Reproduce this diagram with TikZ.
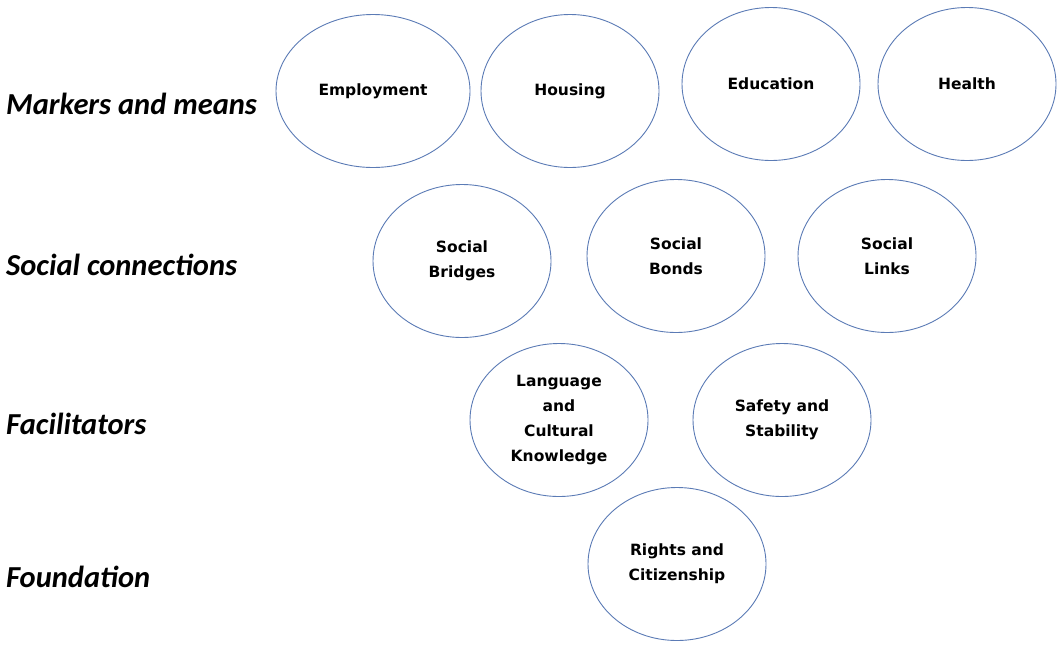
\documentclass[tikz,border=0pt]{standalone}
\usepackage{fontspec}
\setmainfont{Carlito}
\newfontfamily\circfont{DejaVu Sans}
\usetikzlibrary{shapes.geometric}
\definecolor{rimblue}{HTML}{5B7BB5}
\tikzset{
    blob/.style={ellipse, draw=rimblue, line width=0.9pt, minimum width=178pt, minimum height=153pt, inner sep=0pt, align=center, font=\circfont\bfseries\fontsize{15.5}{25}\selectfont},
    level/.style={anchor=west, inner sep=0pt, font=\bfseries\itshape\fontsize{30.5}{33}\selectfont}
}
\begin{document}
\begin{tikzpicture}[x=1pt, y=-1pt]
        \useasboundingbox (0,0) rectangle (1059,646);
        \node[level] (markers) at (6,104) {Markers and means};
        \node[level] (social) at (6,265) {Social connections};
        \node[level] (facil) at (6,424) {Facilitators};
        \node[level] (found) at (6,577) {Foundation};
        \node[blob, minimum width=194pt] (employment) at (373,91) {Employment};
        \node[blob] (housing) at (570,91) {Housing};
        \node[blob] (education) at (771,84) {Education};
        \node[blob] (health) at (967,84) {Health};
        \node[blob] (bridges) at (462,261) {Social\\Bridges};
        \node[blob] (bonds) at (676,256) {Social\\Bonds};
        \node[blob] (links) at (887,256) {Social\\Links};
        \node[blob] (language) at (559,420) {Language\\and\\Cultural\\Knowledge};
        \node[blob] (safety) at (782,420) {Safety and\\Stability};
        \node[blob] (rights) at (677,564) {Rights and\\Citizenship};
    \end{tikzpicture}
\end{document}
